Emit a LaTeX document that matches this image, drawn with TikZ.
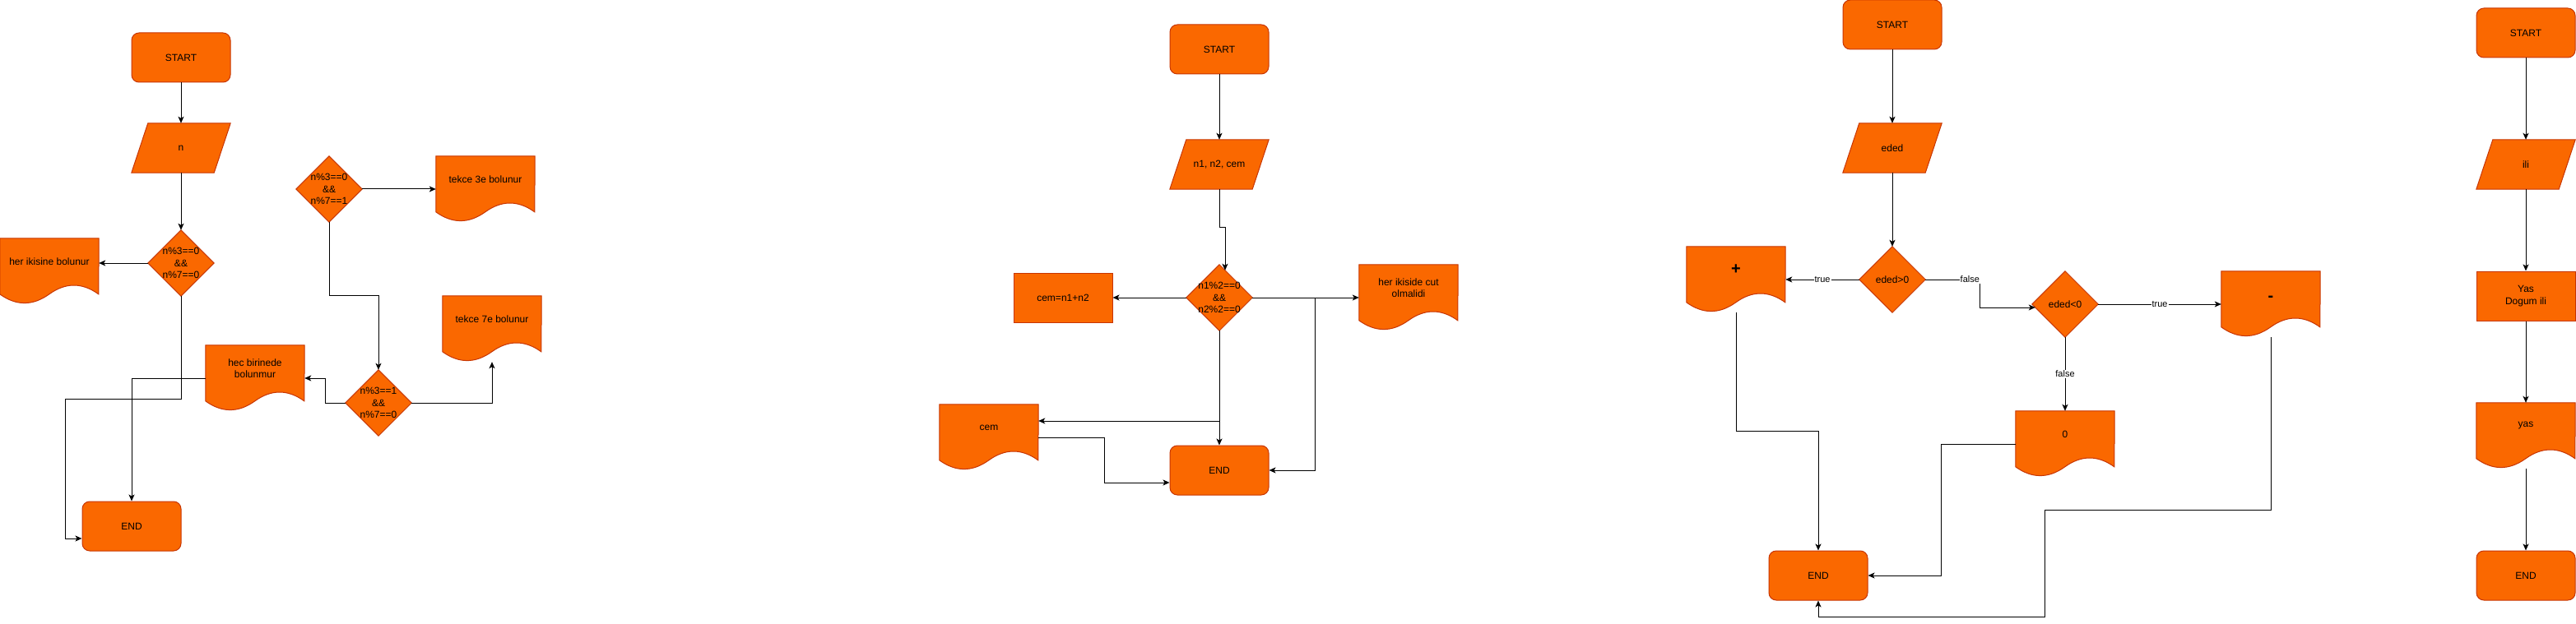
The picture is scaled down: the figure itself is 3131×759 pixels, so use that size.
\documentclass[tikz,border=0pt]{standalone}
\usepackage{fontspec}
\setmainfont{Liberation Sans}
\usetikzlibrary{arrows.meta,calc}
\pgfdeclarelayer{bg}
\pgfsetlayers{bg,main}
\definecolor{fillC}{HTML}{FA6800}
\definecolor{strokeC}{HTML}{C73500}
\newcommand\mkpar[1]{\path[shp] ($(#1.north west)+(20,0)$) -- (#1.north east) -- ($(#1.south east)+(-20,0)$) -- (#1.south west) -- cycle;}
\newcommand\mkdia[1]{\path[shp] (#1.north) -- (#1.east) -- (#1.south) -- (#1.west) -- cycle;}
\newcommand\mkdoc[1]{\path[shp] (#1.north west) -- (#1.north east) -- ($(#1.north west)+(120,68)$) .. controls ($(#1.north west)+(100,53.6)$) and ($(#1.north west)+(80,53.6)$) .. ($(#1.north west)+(60,68)$) .. controls ($(#1.north west)+(40,82.4)$) and ($(#1.north west)+(20,82.4)$) .. ($(#1.north west)+(0,68)$) -- cycle;}
\begin{document}
\begin{tikzpicture}[x=1pt,y=-1pt,
  base/.style={font=\fontsize{12}{14.4}\selectfont, text=black, inner sep=0pt, align=center},
  term/.style={base, draw=strokeC, fill=fillC, line width=1pt, rounded corners=9pt, minimum width=120pt, minimum height=60pt},
  proc/.style={base, draw=strokeC, fill=fillC, line width=1pt, minimum width=120pt, minimum height=60pt},
  iobox/.style={base, minimum width=120pt, minimum height=60pt},
  decbox/.style={base, minimum width=80pt, minimum height=80pt},
  docbox/.style={base, minimum width=120pt, minimum height=80pt},
  doctxt/.style={base, yshift=12pt},
  bigtxt/.style={doctxt, font=\fontsize{20}{24}\selectfont\bfseries},
  shp/.style={draw=strokeC, fill=fillC, line width=1pt},
  conn/.style={draw=black, line width=1pt, -{Stealth[length=8pt,width=7pt,inset=2pt]}},
  elabel/.style={font=\fontsize{11}{13}\selectfont, text=black, fill=white, inner sep=1pt},
]
\useasboundingbox (0,0) rectangle (3131,759);

% ---------- diagram 1 ----------
\node[term] (s1) at (220,70) {START};
\node[iobox] (n1) at (220,180) {n};
\node[decbox] (dA) at (220,320) {n\%3==0\\\&\&\\n\%7==0};
\node[docbox, label={[doctxt]center:her ikisine bolunur}] (hA) at (60,330) {};
\node[decbox] (dB) at (400,230) {n\%3==0\\\&\&\\n\%7==1};
\node[docbox, label={[doctxt]center:tekce 3e bolunur}] (t3) at (590,230) {};
\node[docbox, label={[doctxt]center:tekce 7e bolunur}] (t7) at (598,400) {};
\node[decbox] (dC) at (460,490) {n\%3==1\\\&\&\\n\%7==0};
\node[docbox, label={[doctxt]center:{hec birinede\\bolunmur}}] (hc) at (310,460) {};
\node[term] (e1) at (160,640) {END};

% ---------- diagram 2 ----------
\node[term] (s2) at (1482,60) {START};
\node[iobox] (p2) at (1482,200) {n1, n2, cem};
\node[decbox] (dD) at (1482,362) {n1\%2==0\\\&\&\\n2\%2==0};
\node[proc] (rc) at (1292,362) {cem=n1+n2};
\node[docbox, label={[doctxt]center:{her ikiside cut\\olmalidi}}] (hk) at (1712,362) {};
\node[docbox, label={[doctxt]center:cem}] (dc) at (1202,532) {};
\node[term] (e2) at (1482,572) {END};

% ---------- diagram 3 ----------
\node[term] (s3) at (2300,30) {START};
\node[iobox] (p3) at (2300,180) {eded};
\node[decbox] (dE) at (2300,340) {eded>0};
\node[docbox, label={[bigtxt]center:+}] (dp) at (2110,340) {};
\node[decbox] (dF) at (2510,370) {eded<0};
\node[docbox, label={[bigtxt,yshift=-3pt]center:\vphantom{+}-}] (dm) at (2760,370) {};
\node[docbox, label={[doctxt]center:0}] (dz) at (2510,540) {};
\node[term] (e3) at (2210,700) {END};

% ---------- diagram 4 ----------
\node[term] (s4) at (3070,40) {START};
\node[iobox] (p4) at (3070,200) {ili};
\node[proc] (ry) at (3070,360) {Yas\\Dogum ili};
\node[docbox, label={[doctxt]center:yas}] (dy) at (3070,530) {};
\node[term] (e4) at (3070,700) {END};

% ---------- shapes (background) ----------
\begin{pgfonlayer}{bg}
\fill[white] (0,0) rectangle (3131,759);
\mkpar{n1}\mkpar{p2}\mkpar{p3}\mkpar{p4}
\mkdia{dA}\mkdia{dB}\mkdia{dC}\mkdia{dD}\mkdia{dE}\mkdia{dF}
\mkdoc{hA}\mkdoc{t3}\mkdoc{t7}\mkdoc{hc}\mkdoc{hk}\mkdoc{dc}\mkdoc{dp}\mkdoc{dm}\mkdoc{dz}\mkdoc{dy}
\end{pgfonlayer}

% ---------- connectors diagram 1 ----------
\draw[conn] (s1.south) -- (n1.north);
\draw[conn] (n1.south) -- (dA.north);
\draw[conn] (dA.west) -- (dA.west -| hA.east);
\draw[conn] (dA.south) |- ($(e1.west)+(-20,-155)$) |- ($(e1.west)+(0,15)$);
\draw[conn] (hc.west) -| (e1.north);
\draw[conn] (dB.east) -- (t3.west);
\draw[conn] (dB.south) |- ($(dC.north)+(0,-90)$) -- (dC.north);
\draw[conn] (dC.west) -- ++(-24,0) |- (hc.east);
\draw[conn] (dC.east) -| (t7.south);

% ---------- connectors diagram 2 ----------
\draw[conn] (s2.south) -- (p2.north);
\draw[conn] (p2.south) -- ++(0,46) -- ++(7,0) -- ($(dD.north)+(7,7)$);
\draw[conn] (dD.west) -- (rc.east);
\draw[conn] (dD.east) -- (hk.west);
\draw[conn] (dD.east) -- ++(76,0) |- (e2.east);
\draw[conn] (dD.south) -- (e2.north);
\draw[conn] (dD.south) |- ($(dc.east)+(0,-20)$);
\draw[conn] (dc.east) -- ++(80,0) |- ($(e2.west)+(0,15)$);

% ---------- connectors diagram 3 ----------
\draw[conn] (s3.south) -- (p3.north);
\draw[conn] (p3.south) -- (dE.north);
\draw[conn] (dE.west) -- node[elabel]{true} (dp.east);
\draw[conn] (dE.east) -- node[elabel,pos=0.82]{false} ++(66,0) -- ++(0,34) -- ($(dF.west)+(4,4)$);
\draw[conn] (dF.east) -- node[elabel]{true} (dm.west);
\draw[conn] (dF.south) -- node[elabel]{false} (dz.north);
\draw[conn] (dp.south) |- ($(e3.north)+(0,-145)$) -- (e3.north);
\draw[conn] (dz.west) -- ++(-90,0) |- (e3.east);
\draw[conn] (dm.south) -- ++(0,210) -| ($(e3.south)+(275,20)$) -| (e3.south);

% ---------- connectors diagram 4 ----------
\draw[conn] (s4.south) -- (p4.north);
\draw[conn] (p4.south) -- (ry.north);
\draw[conn] (ry.south) -- (dy.north);
\draw[conn] (dy.south) -- (e4.north);
\end{tikzpicture}
\end{document}
